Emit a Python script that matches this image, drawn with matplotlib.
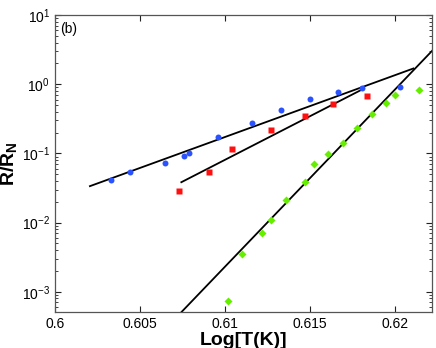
import numpy as np
import matplotlib
matplotlib.use("Agg")
import matplotlib.pyplot as plt
from matplotlib.ticker import LogLocator, FixedLocator

plt.rcParams['font.family'] = ['Liberation Sans', 'DejaVu Sans']
plt.rcParams['mathtext.fontset'] = 'custom'
plt.rcParams['mathtext.rm'] = 'Liberation Sans'
plt.rcParams['mathtext.bf'] = 'Liberation Sans:bold'

# blue circles
blue_x = [0.60328, 0.60443, 0.60645, 0.60759, 0.60788, 0.60959, 0.61159,
          0.61329, 0.61500, 0.61669, 0.61808, 0.62032]
blue_y = [0.041, 0.0535, 0.0729, 0.0902, 0.1017, 0.170, 0.276,
          0.417, 0.613, 0.774, 0.875, 0.914]

# red squares
red_x = [0.60731, 0.60904, 0.61045, 0.61272, 0.61471, 0.61639, 0.61837]
red_y = [0.0284, 0.0544, 0.115, 0.220, 0.351, 0.514, 0.664]

# green diamonds
green_x = [0.61018, 0.61102, 0.61216, 0.61272, 0.61359, 0.61471, 0.61526,
           0.61610, 0.61696, 0.61781, 0.61865, 0.61947, 0.62004, 0.62141]
green_y = [7.39e-4, 3.55e-3, 7.15e-3, 0.0110, 0.0209, 0.0387, 0.0698,
           0.0973, 0.139, 0.230, 0.375, 0.540, 0.700, 0.813]

# fitted lines (endpoints)
blue_fit_x = [0.60206, 0.62110]
blue_fit_y = [0.0336, 1.686]
red_fit_x = [0.60744, 0.61808]
red_fit_y = [0.0383, 0.838]
green_fit_x = [0.60745, 0.6222]
green_fit_y = [5.1e-4, 3.03]

xticks = [0.6, 0.605, 0.61, 0.615, 0.62]
xticklabels = ['0.6', '0.605', '0.61', '0.615', '0.62']

fig = plt.figure(figsize=(4.36, 3.48), dpi=100)
ax = fig.add_axes([0.126, 0.1034, 0.865, 0.8536])

ax.plot(blue_fit_x, blue_fit_y, color='black', lw=1.3, zorder=2)
ax.plot(red_fit_x, red_fit_y, color='black', lw=1.3, zorder=2)
ax.plot(green_fit_x, green_fit_y, color='black', lw=1.3, zorder=2)

ax.plot(blue_x, blue_y, 'o', color='#2a52ff', ms=4.3, mec='none', zorder=3)
ax.plot(red_x, red_y, 's', color='#ff1010', ms=3.8, mec='none', zorder=3)
ax.plot(green_x, green_y, 'D', color='#66ee00', ms=4.0, mec='none', zorder=3)

ax.set_yscale('log')
ax.set_xlim(0.6, 0.6222)
ax.set_ylim(5.1e-4, 10)
ax.xaxis.set_major_locator(FixedLocator(xticks))
ax.set_xticklabels(xticklabels)
ax.yaxis.set_major_locator(LogLocator(base=10, numticks=10))
ax.yaxis.set_minor_locator(LogLocator(base=10, subs=np.arange(2, 10), numticks=10))

ax.tick_params(which='both', direction='in', top=True, right=True,
               labelsize=10, colors='#222222', labelcolor='black')
ax.tick_params(which='major', length=4, width=0.8)
ax.tick_params(which='minor', length=2, width=0.6)
for s in ax.spines.values():
    s.set_color('#555555')
    s.set_linewidth(0.9)

ax.set_xlabel('Log[T(K)]', fontsize=14, fontweight='bold', labelpad=1)
ax.set_ylabel(r'$\mathbf{R/R_N}$', fontsize=14, labelpad=2)
ax.text(0.015, 0.975, '(b)', transform=ax.transAxes, fontsize=10,
        ha='left', va='top')

fig.savefig('out.png', dpi=100)
